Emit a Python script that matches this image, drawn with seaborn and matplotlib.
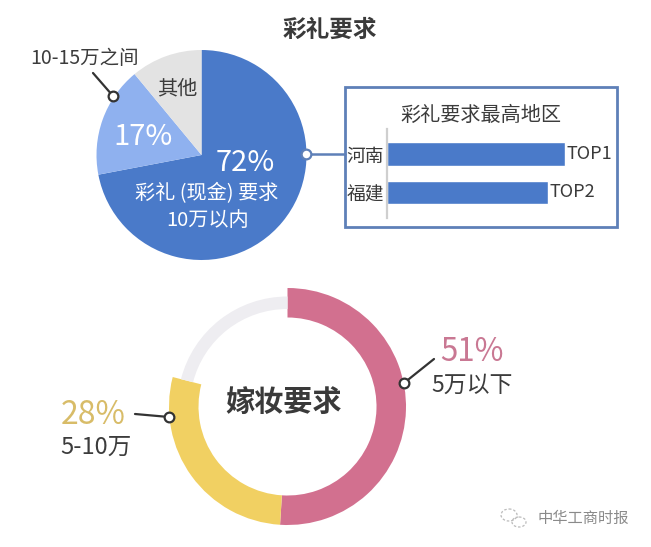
import matplotlib
matplotlib.use("Agg")
import matplotlib.pyplot as plt
import seaborn as sns
import pandas as pd
import numpy as np
from matplotlib.patches import Rectangle, Ellipse

# ---------------- data ----------------
caili_labels = ["彩礼（现金）要求10万以内", "10-15万之间", "其他"]
caili_values = [72, 17, 11]
caili_colors = ["#4A7AC9", "#8FB1EF", "#E3E3E3"]

region_names = ["河南", "福建"]
region_scores = [100, 90.5]
region_ranks = ["TOP1", "TOP2"]

jiazhuang_labels = ["5万以下", "5-10万", "其他"]
jiazhuang_values = [51, 28, 21]
jiazhuang_colors = ["#D2708F", "#F1D062", "#EEEDF1"]

# ---------------- setup ----------------
sns.set_theme(style="white")
plt.rcParams['font.family'] = ['Noto Sans CJK SC', 'DejaVu Sans']

W, H = 651, 547
fig = plt.figure(figsize=(W / 100, H / 100), dpi=100)
fig.patch.set_facecolor("white")


def pie_axes(cx, cy, R):
    ax = fig.add_axes([(cx - R) / W, 1 - (cy + R) / H, 2 * R / W, 2 * R / H])
    ax.set_xlim(-1, 1)
    ax.set_ylim(-1, 1)
    ax.set_aspect("equal")
    ax.axis("off")
    return ax


# ---------------- top pie ----------------
ax1 = pie_axes(201.5, 155, 105)
ax1.pie(caili_values, colors=caili_colors, startangle=90, counterclock=False,
        radius=1, wedgeprops=dict(linewidth=0))
ax1.set_xlim(-1, 1)
ax1.set_ylim(-1, 1)

# ---------------- bottom donut ----------------
ax2 = pie_axes(287.5, 406.5, 118.5)
wedges, _ = ax2.pie(jiazhuang_values, colors=jiazhuang_colors, startangle=90,
                    counterclock=False, radius=1,
                    wedgeprops=dict(width=29.5 / 118.5, linewidth=0))
wedges[2].set_radius(110 / 118.5)
wedges[2].set_width(12.5 / 118.5)
ax2.set_xlim(-1, 1)
ax2.set_ylim(-1, 1)

# ---------------- bar chart ----------------
bar_left, bar_top, bar_bottom = 387, 129, 217.5
xmax = 120
px_per_unit = 178 / 100
bar_w = xmax * px_per_unit
ax3 = fig.add_axes([bar_left / W, 1 - bar_bottom / H, bar_w / W, (bar_bottom - bar_top) / H])
df = pd.DataFrame({"region": region_names, "score": region_scores})
sns.barplot(data=df, x="score", y="region", ax=ax3, color="#4A7AC9",
            width=0.6, saturation=1, orient="h")
ax3.set_xlim(0, xmax)
ax3.set_ylim(1.65, -0.65)
ax3.set_facecolor("none")
for s in ["top", "right", "bottom"]:
    ax3.spines[s].set_visible(False)
ax3.spines["left"].set_color("#CFCFCF")
ax3.spines["left"].set_linewidth(1.6)
ax3.set_xticks([])
ax3.set_xlabel("")
ax3.set_ylabel("")
ax3.tick_params(axis="y", length=0, pad=2, labelsize=13.5, labelcolor="#3A3A3A")
for i, (v, r) in enumerate(zip(region_scores, region_ranks)):
    ax3.text(v + 0.8, i, r, ha="left", va="center", fontsize=13, color="#3A3A3A")

# ---------------- overlay (text & decorations) ----------------
ov = fig.add_axes([0, 0, 1, 1], zorder=5)
ov.set_xlim(0, W)
ov.set_ylim(H, 0)
ov.axis("off")
ov.patch.set_alpha(0)

dark = "#3C3C3C"
ov.text(330, 30, "彩礼要求", ha="center", va="center", fontsize=17,
        fontweight="bold", color="#3A3A3A")

ov.text(177, 89, "其他", ha="center", va="center", fontsize=14.5, color=dark)
ov.text(143, 137, "17%", ha="center", va="center", fontsize=21, color="white")
ov.text(245, 163, "72%", ha="center", va="center", fontsize=21, color="white")
ov.text(207, 194, "彩礼 (现金) 要求", ha="center", va="center", fontsize=14.5, color="white")
ov.text(208, 221, "10万以内", ha="center", va="center", fontsize=14.5, color="white")

ov.text(30, 58, "10-15万之间", ha="left", va="center", fontsize=14, color=dark)
ov.plot([93, 113], [73, 96], color="#333333", lw=1.6, zorder=6)
ov.plot([113], [96], marker="o", ms=7, mfc="white", mec="#333333", mew=1.6, zorder=7)

# connector to box
ov.plot([306, 345], [154, 154], color="#5E80B8", lw=1.8, zorder=6)
ov.plot([306], [154], marker="o", ms=7, mfc="white", mec="#5E80B8", mew=1.6, zorder=7)
ov.add_patch(Rectangle((345, 87), 272, 140, fill=False, edgecolor="#5E80B8", lw=2))
ov.text(481, 115, "彩礼要求最高地区", ha="center", va="center", fontsize=14.5, color=dark)

# bottom donut labels
ov.text(284, 402, "嫁妆要求", ha="center", va="center", fontsize=21,
        fontweight="bold", color="#3A3A3A")
ov.text(472, 352, "51%", ha="center", va="center", fontsize=22.5, color="#C97893")
ov.text(472, 385, "5万以下", ha="center", va="center", fontsize=16.5, color=dark)
ov.plot([404, 434], [383, 359], color="#333333", lw=1.6, zorder=6)
ov.plot([404], [383], marker="o", ms=7, mfc="white", mec="#333333", mew=1.6, zorder=7)

ov.text(61, 415, "28%", ha="left", va="center", fontsize=23, color="#D8BC68")
ov.text(60, 447, "5-10万", ha="left", va="center", fontsize=17, color=dark)
ov.plot([135, 169], [414, 417], color="#333333", lw=1.6, zorder=6)
ov.plot([169], [417], marker="o", ms=7, mfc="white", mec="#333333", mew=1.6, zorder=7)

# watermark
ov.add_patch(Ellipse((509, 515), 16, 12, fill=False, edgecolor="#BBBBBB", lw=0.9, ls=(0, (2, 1.5))))
ov.add_patch(Ellipse((519, 522), 14, 10, fill=False, edgecolor="#BBBBBB", lw=0.9, ls=(0, (2, 1.5))))
ov.text(583, 518, "中华工商时报", ha="center", va="center", fontsize=11, color="#8A8A8A")

fig.savefig("out.png", dpi=100, facecolor="white")
